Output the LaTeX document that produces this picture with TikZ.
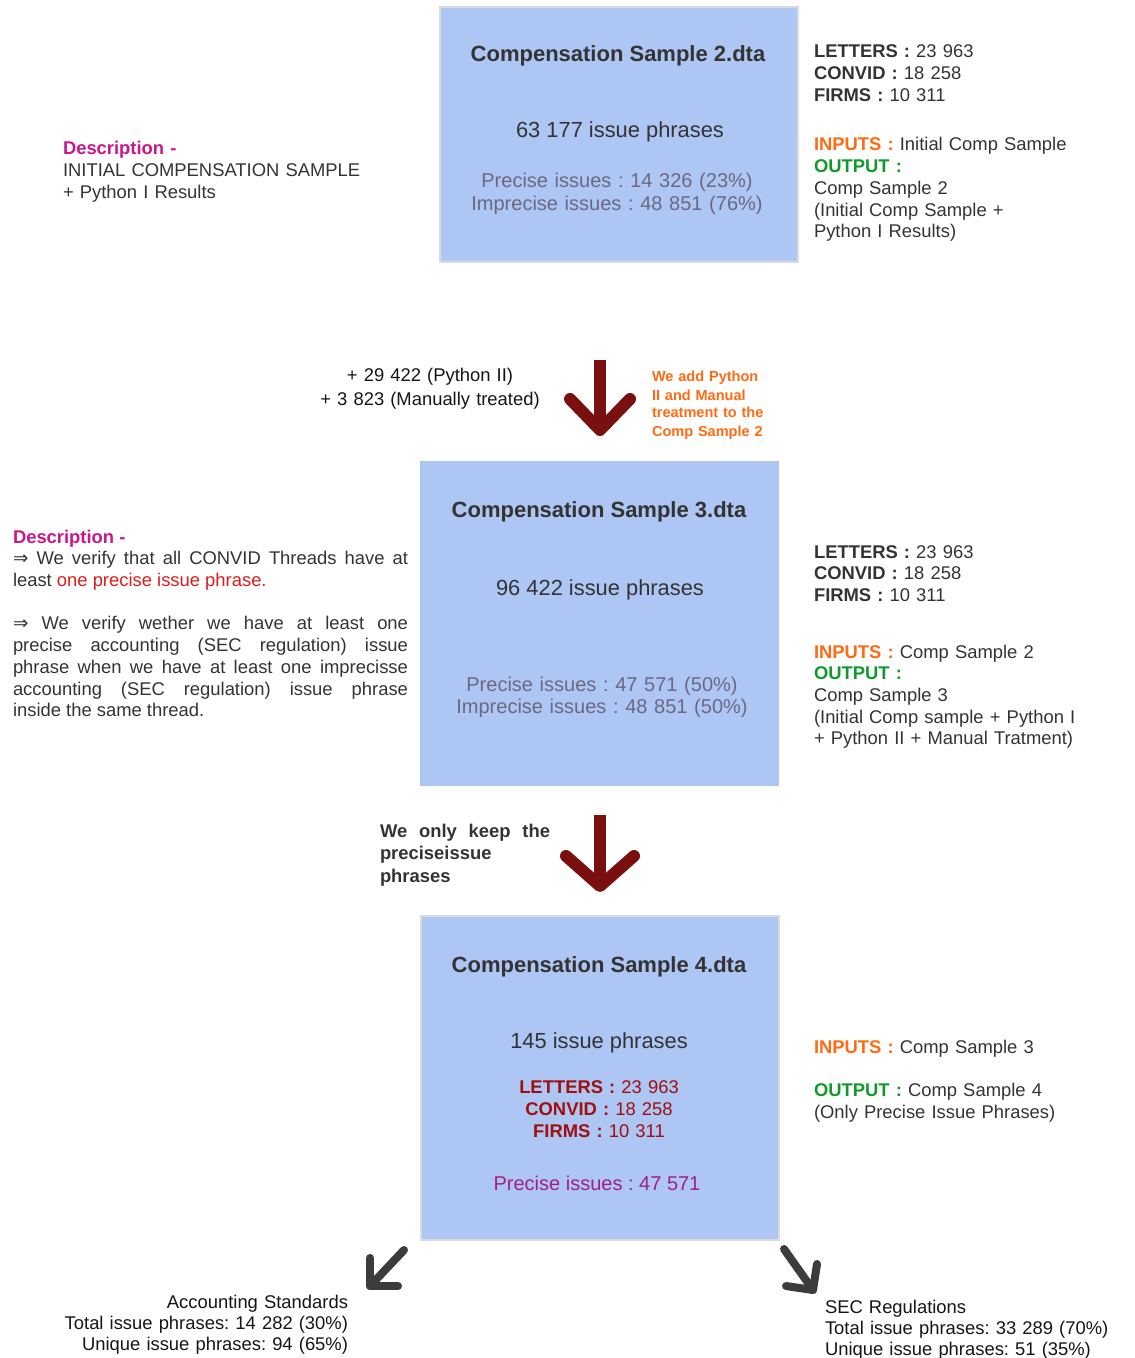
\documentclass[tikz,border=0pt]{standalone}
\usepackage{fontspec}
\setmainfont{Liberation Sans}
\newfontfamily\symfont{DejaVu Sans}
\frenchspacing
\definecolor{boxfill}{HTML}{ADC6F4}
\definecolor{boxedge}{HTML}{D8DBE2}
\definecolor{txtc}{HTML}{333333}
\definecolor{blackc}{HTML}{151515}
\definecolor{grayc}{HTML}{6C6882}
\definecolor{descc}{HTML}{C8168C}
\definecolor{inpc}{HTML}{FF6A13}
\definecolor{outc}{HTML}{119A2C}
\definecolor{redc}{HTML}{E01B1B}
\definecolor{dredc}{HTML}{A00E0E}
\definecolor{purpc}{HTML}{A3217F}
\definecolor{arrowred}{HTML}{7A0F0F}
\definecolor{arrowgray}{HTML}{3C3C3C}
\newcommand\szbody{\fontsize{13.8pt}{16.3pt}\selectfont\frenchspacing}
\newcommand\szgray{\fontsize{15pt}{16.9pt}\selectfont\frenchspacing}
\newcommand\szbig{\fontsize{16.4pt}{19pt}\selectfont}
\newcommand\sztitle{\fontsize{16.5pt}{19pt}\selectfont\bfseries}
\newcommand\szsmall{\fontsize{10.9pt}{13.5pt}\selectfont\bfseries}
\newcommand\implarrow{{\symfont ⇒}}
\tikzset{
  databox/.style={fill=boxfill, draw=boxedge, line width=1.5pt},
  plainbox/.style={fill=boxfill, draw=none},
  txt/.style={text=txtc, inner sep=0pt, outer sep=0pt, font=\szbody},
  flowshaft/.style={draw=arrowred, line width=9pt, line cap=butt},
  flowhead/.style={draw=arrowred, line width=9pt, line cap=round, line join=round},
  splitarrow/.style={draw=arrowgray, line width=6pt, line cap=round, line join=round},
}
\begin{document}
\begin{tikzpicture}[x=0.75pt,y=-0.75pt]
\useasboundingbox (0,0) rectangle (1134,1358);

% ---------- Box 1 : Compensation Sample 2 ----------
\node[databox, minimum width=268.5pt, minimum height=191.25pt] (box2) at (619,134.5) {};
\node[txt, font=\sztitle, anchor=base] (t2) at (618,62) {Compensation Sample 2.dta};
\node[txt, font=\szbig, anchor=base] (n2) at (620,138) {63 177 issue phrases};
\node[txt, text=grayc, font=\szgray, anchor=base, text width=260pt, align=center] (g2) at (617,188)
  {Precise issues : 14 326 (23\%)\\Imprecise issues : 48 851 (76\%)};

\node[txt, anchor=base west, text width=230pt, align=left] (info2a) at (814,58)
  {\textbf{LETTERS :} 23 963\\\textbf{CONVID :} 18 258\\\textbf{FIRMS :} 10 311};
\node[txt, anchor=base west, text width=230pt, align=left] (info2b) at (814,151)
  {\textbf{\color{inpc}INPUTS :} Initial Comp Sample\\\textbf{\color{outc}OUTPUT :}\\Comp Sample 2\\(Initial Comp Sample +\\Python I Results)};

\node[txt, anchor=base west, text width=280pt, align=left] (desc2) at (63,155)
  {\textcolor{descc}{\textbf{Description -}}\\INITIAL COMPENSATION SAMPLE\\+ Python I Results};

% ---------- Arrow 1 ----------
\coordinate (a1s) at (600,360);
\coordinate (a1t) at (600,430);
\coordinate (a1l) at (570,399);
\coordinate (a1r) at (630,399);
\draw[flowshaft] (a1s) -- ([yshift=4pt]a1t);
\draw[flowhead] (a1l) -- (a1t) -- (a1r);
\node[txt, text=blackc, font=\fontsize{13.8pt}{17.5pt}\selectfont\frenchspacing, anchor=base, text width=240pt, align=center] (lab1) at (430,382)
  {+ 29 422 (Python II)\\+ 3 823 (Manually treated)};
\node[txt, text=inpc, font=\szsmall, anchor=base west, text width=100pt, align=left] (note1) at (652,382)
  {We add Python\\II and Manual\\treatment to the\\Comp Sample 2};

% ---------- Box 2 : Compensation Sample 3 ----------
\node[plainbox, minimum width=269.25pt, minimum height=243.75pt] (box3) at (599.5,623.5) {};
\node[txt, font=\sztitle, anchor=base] (t3) at (599,517) {Compensation Sample 3.dta};
\node[txt, font=\szbig, anchor=base] (n3) at (600,595) {96 422 issue phrases};
\node[txt, text=grayc, font=\fontsize{15pt}{16.5pt}\selectfont\frenchspacing, anchor=base, text width=260pt, align=center] (g3) at (602,691)
  {Precise issues : 47 571 (50\%)\\Imprecise issues : 48 851 (50\%)};

\node[txt, anchor=base west, text width=296.25pt, align=justify] (desc3) at (13,543)
  {\textcolor{descc}{\textbf{Description -}}\\
   \implarrow\ We verify that all CONVID Threads have at\linebreak
   least \textcolor{redc}{one precise issue phrase.}\par\vspace{16.3pt}
   \implarrow\ We verify wether we have at least one\linebreak
   precise accounting (SEC regulation) issue\linebreak
   phrase when we have at least one imprecisse\linebreak
   accounting (SEC regulation) issue phrase\linebreak
   inside the same thread.};

\node[txt, anchor=base west, text width=230pt, align=left] (info3a) at (814,558)
  {\textbf{LETTERS :} 23 963\\\textbf{CONVID :} 18 258\\\textbf{FIRMS :} 10 311};
\node[txt, anchor=base west, text width=230pt, align=left] (info3b) at (814,658)
  {\textbf{\color{inpc}INPUTS :} Comp Sample 2\\\textbf{\color{outc}OUTPUT :}\\Comp Sample 3\\(Initial Comp sample + Python I\\+ Python II + Manual Tratment)};

% ---------- Arrow 2 ----------
\coordinate (a2s) at (600,815);
\coordinate (a2t) at (600,886);
\coordinate (a2l) at (566,856);
\coordinate (a2r) at (634,856);
\draw[flowshaft] (a2s) -- ([yshift=4pt]a2t);
\draw[flowhead] (a2l) -- (a2t) -- (a2r);
\node[txt, font=\fontsize{13.8pt}{17pt}\selectfont\bfseries, anchor=base west, text width=127.5pt, align=justify] (lab2) at (380,837)
  {We only keep the\linebreak preciseissue\\phrases};

% ---------- Box 3 : Compensation Sample 4 ----------
\node[databox, minimum width=268.5pt, minimum height=243pt] (box4) at (600,1078) {};
\node[txt, font=\sztitle, anchor=base] (t4) at (599,972) {Compensation Sample 4.dta};
\node[txt, font=\szbig, anchor=base] (n4) at (599,1048) {145 issue phrases};
\node[txt, text=dredc, font=\fontsize{13.8pt}{16.5pt}\selectfont\frenchspacing, anchor=base, text width=240pt, align=center] (r4) at (599,1093)
  {\textbf{LETTERS :} 23 963\\\textbf{CONVID :} 18 258\\\textbf{FIRMS :} 10 311};
\node[txt, text=purpc, font=\szgray, anchor=base] (p4) at (597,1190) {Precise issues : 47 571};

\node[txt, anchor=base west, text width=230pt, align=left] (info4) at (814,1053)
  {\textbf{\color{inpc}INPUTS :} Comp Sample 3\\[16.3pt]\textbf{\color{outc}OUTPUT :} Comp Sample 4\\(Only Precise Issue Phrases)};

% ---------- Split arrows ----------
\coordinate (bls) at (404,1250);
\coordinate (blc) at (370,1286);
\coordinate (blu) at (370,1258);
\coordinate (blr) at (398,1286);
\draw[splitarrow] (bls) -- (blc);
\draw[splitarrow] (blu) -- (blc) -- (blr);

\coordinate (brs) at (784,1249);
\coordinate (brc) at (813,1290);
\coordinate (bru) at (817,1264);
\coordinate (brl) at (786,1286);
\draw[splitarrow] (brs) -- (brc);
\draw[splitarrow] (bru) -- (brc) -- (brl);

\node[txt, text=blackc, font=\fontsize{13.8pt}{16pt}\selectfont\frenchspacing, anchor=base east, text width=260pt, align=right] (acc) at (348,1308)
  {Accounting Standards\\Total issue phrases: 14 282 (30\%)\\Unique issue phrases: 94 (65\%)};
\node[txt, text=blackc, font=\fontsize{13.8pt}{15.8pt}\selectfont\frenchspacing, anchor=base west, text width=240pt, align=left] (sec) at (825,1313)
  {SEC Regulations\\Total issue phrases: 33 289 (70\%)\\Unique issue phrases: 51 (35\%)};
\end{tikzpicture}
\end{document}
